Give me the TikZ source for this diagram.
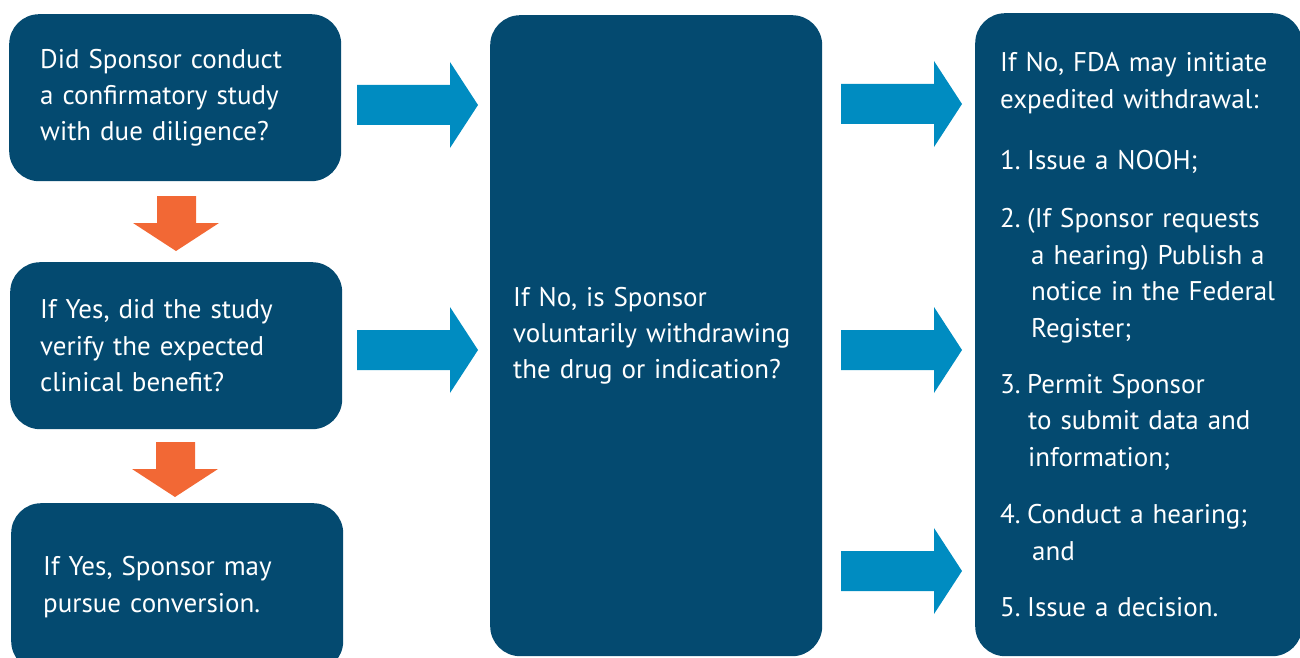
\documentclass[tikz,border=0pt]{standalone}
\usepackage{fontspec}
\setmainfont{PT Sans}
\usetikzlibrary{positioning}
\definecolor{boxblue}{RGB}{4,74,112}
\definecolor{arrowblue}{RGB}{0,140,193}
\definecolor{arroworange}{RGB}{242,104,53}
\newcommand{\stepno}[1]{\makebox[27pt][l]{#1}}
\newcommand{\contind}[1]{\hspace*{#1pt}}

\begin{document}
\begin{tikzpicture}[x=1pt, y=-1pt,
    % Boxes
    qbox/.style={fill=boxblue, rounded corners=30pt, text=white, align=left, anchor=north west,
        font=\fontsize{27}{36.4}\selectfont, inner ysep=0pt},
    % Block arrows
    pics/rarrow/.style={code={
        \fill[arrowblue] (0,-20) -- (93,-20) -- (93,-43) -- (121,0) -- (93,43) -- (93,20) -- (0,20) -- cycle;
    }},
    pics/darrow/.style={code={
        \fill[arroworange] (-19,0) -- (20,0) -- (20,27) -- (43,27) -- (0,55) -- (-43,27) -- (-19,27) -- cycle;
    }}]

\useasboundingbox (0,0) rectangle (1300,658);

% Left column
\node[qbox, minimum width=332pt, minimum height=167pt, inner xsep=31pt, text width=270pt] (q1) at (9,14)
    {Did Sponsor conduct\\a confirmatory study\\with due diligence?};
\node[qbox, minimum width=332pt, minimum height=167pt, inner xsep=30pt, text width=272pt] (q2) at (10,262)
    {If Yes, did the study\\verify the expected\\clinical benefit?};
\node[qbox, minimum width=332pt, minimum height=168pt, inner xsep=32pt, text width=268pt] (conv) at (11,503)
    {If Yes, Sponsor may\\pursue conversion.};

% Middle column
\node[qbox, minimum width=332pt, minimum height=641pt, inner xsep=23pt, text width=286pt] (vol) at (490,15)
    {If No, is Sponsor\\voluntarily withdrawing\\the drug or indication?};

% Right column
\node[qbox, minimum width=327pt, minimum height=643pt, inner xsep=25pt, text width=277pt] (fda) at (975,13)
    {If No, FDA may initiate\\expedited withdrawal:\\[25pt]
     \stepno{1.}Issue a NOOH;\\[22pt]
     \stepno{2.}(If Sponsor requests\\\contind{31}a hearing) Publish a\\\contind{31}notice in the Federal\\\contind{31}Register;\\[20pt]
     \stepno{3.}Permit Sponsor\\\contind{28}to submit data and\\\contind{28}information;\\[21pt]
     \stepno{4.}Conduct a hearing;\\\contind{32}and\\[20pt]
     \stepno{5.}Issue a decision.};

% Down arrows
\pic at (176,196) {darrow};
\pic at (175,442) {darrow};

% Right arrows
\pic at (357,105) {rarrow};
\pic at (357,350) {rarrow};
\pic at (841,104) {rarrow};
\pic at (841,350) {rarrow};
\pic at (841,571) {rarrow};

\end{tikzpicture}
\end{document}
